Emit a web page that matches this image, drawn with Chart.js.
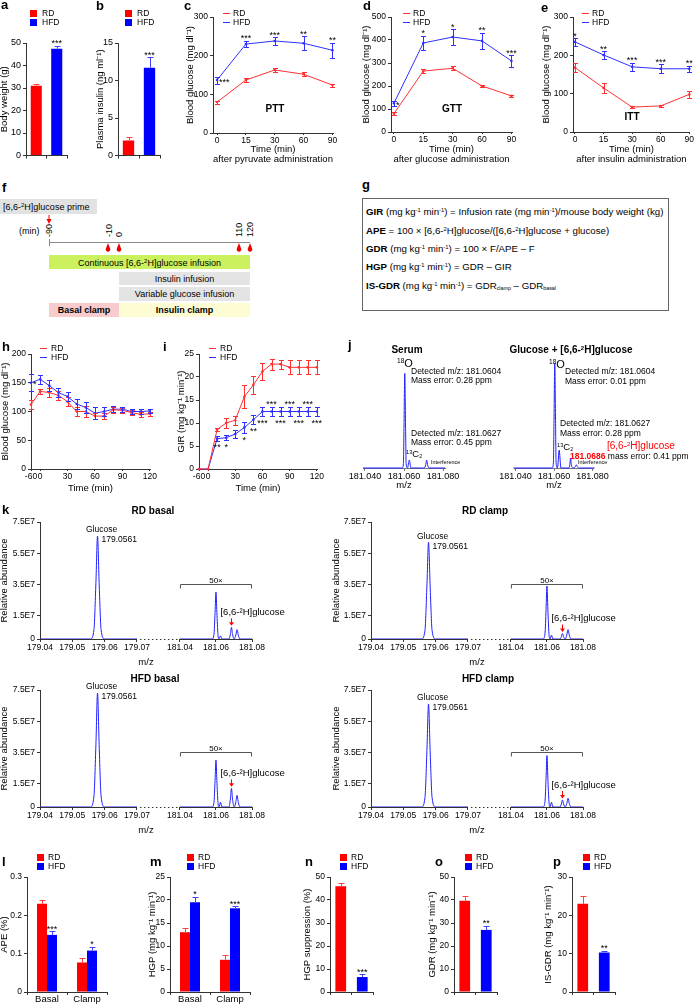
<!DOCTYPE html>
<html>
<head>
<meta charset="utf-8">
<title>Glucose clamp figure</title>
<script src="https://cdn.jsdelivr.net/npm/chart.js@4.4.1/dist/chart.umd.min.js"></script>
<style>
html,body{margin:0;padding:0;background:#fff}
body{position:relative;width:694px;height:1004px;overflow:hidden;font-family:"Liberation Sans",Arial,Helvetica,sans-serif;color:#000}
canvas{position:absolute}
.t{position:absolute;white-space:nowrap;line-height:1}
.lt{position:absolute;font-weight:bold;font-size:13px;line-height:1}
sup{font-size:60%;vertical-align:0.55em;line-height:0}
sub{font-size:55%;vertical-align:-0.25em;line-height:0}
#g{position:absolute;left:362px;top:198px;width:305px;height:111px;border:1px solid #666;font-size:9.7px}
#g div{position:absolute;left:3px;white-space:nowrap;line-height:1}
</style>
</head>
<body>

<svg width="300" height="330" style="position:absolute;left:0;top:0" xmlns="http://www.w3.org/2000/svg" font-family="Liberation Sans, Arial, sans-serif" font-size="9">
  <rect x="0" y="199" width="97" height="15" fill="#e2e2e2"/>
  <text x="3" y="210">[6,6-<tspan font-size="6" dy="-3">2</tspan><tspan dy="3">H]glucose prime</tspan></text>
  <line x1="49" y1="215" x2="49" y2="220" stroke="#f00"/>
  <path d="M46.5 219 L51.5 219 L49 224 Z" fill="#f00"/>
  <text x="19" y="234">(min)</text>
  <line x1="49" y1="242.5" x2="250" y2="242.5" stroke="#888"/>
  <line x1="49.5" y1="239" x2="49.5" y2="246" stroke="#888"/>
  <text transform="translate(52,237) rotate(-90)">-90</text>
  <text transform="translate(112,237) rotate(-90)">-10</text>
  <text transform="translate(122,237) rotate(-90)">0</text>
  <text transform="translate(242,237) rotate(-90)">110</text>
  <text transform="translate(253,237) rotate(-90)">120</text>
  <path d="M108 243 L105.8 248.8 A2.3 2.3 0 1 0 110.2 248.8 Z" fill="#e00"/>
  <path d="M119 243 L116.8 248.8 A2.3 2.3 0 1 0 121.2 248.8 Z" fill="#e00"/>
  <path d="M239 243 L236.8 248.8 A2.3 2.3 0 1 0 241.2 248.8 Z" fill="#e00"/>
  <path d="M250 243 L247.8 248.8 A2.3 2.3 0 1 0 252.2 248.8 Z" fill="#e00"/>
  <rect x="49" y="255" width="201" height="14" fill="#ccf15e"/>
  <text x="149.5" y="265.5" text-anchor="middle">Continuous [6,6-<tspan font-size="6" dy="-3">2</tspan><tspan dy="3">H]glucose infusion</tspan></text>
  <rect x="119" y="272" width="131" height="13" fill="#e4e4e4"/>
  <text x="184.5" y="281.8" text-anchor="middle">Insulin infusion</text>
  <rect x="119" y="287" width="131" height="14" fill="#e4e4e4"/>
  <text x="184.5" y="297.3" text-anchor="middle">Variable glucose infusion</text>
  <rect x="49" y="303" width="70" height="14" fill="#f8cccc"/>
  <text x="84" y="313.3" text-anchor="middle" font-weight="bold">Basal clamp</text>
  <rect x="119" y="303" width="131" height="14" fill="#fdfcd3"/>
  <text x="184.5" y="313.3" text-anchor="middle" font-weight="bold">Insulin clamp</text>
</svg>

<div id="g">
  <div style="top:8px"><b>GIR</b> (mg kg<sup>-1</sup> min<sup>-1</sup>) = Infusion rate (mg min<sup>-1</sup>)/mouse body weight (kg)</div>
  <div style="top:26.5px"><b>APE</b> = 100 × [6,6-<sup>2</sup>H]glucose/([6,6-<sup>2</sup>H]glucose + glucose)</div>
  <div style="top:45px"><b>GDR</b> (mg kg<sup>-1</sup> min<sup>-1</sup>) = 100 × F/APE – F</div>
  <div style="top:63px"><b>HGP</b> (mg kg<sup>-1</sup> min<sup>-1</sup>) = GDR – GIR</div>
  <div style="top:81.5px"><b>IS-GDR</b> (mg kg<sup>-1</sup> min<sup>-1</sup>) = GDR<sub>clamp</sub> – GDR<sub>basal</sub></div>
</div>

<script>
// ---------- data ----------
var groups = ['RD', 'HFD'];

// a, b
var bodyWeight = [31.0, 47.5];
var bodyWeightErr = [0.6, 1.2];
var bodyWeightSig = ['', '***'];
var plasmaInsulin = [2.0, 11.7];
var plasmaInsulinErr = [0.5, 1.4];
var plasmaInsulinSig = ['', '***'];

// c, d, e
var tolTimes = ['0', '15', '30', '60', '90'];
var pttRD = [80, 137, 163, 152, 124];
var pttRDErr = [4, 6, 5, 5, 4];
var pttHFD = [137, 230, 238, 232, 214];
var pttHFDErr = [9, 8, 10, 18, 20];
var pttSig = ['***', '***', '***', '**', '**'];
var pttSigPos = ['right', 'above', 'above', 'above', 'above'];
var gttRD = [80, 265, 277, 200, 157];
var gttRDErr = [8, 10, 8, 6, 5];
var gttHFD = [125, 387, 413, 396, 309];
var gttHFDErr = [10, 32, 33, 35, 25];
var gttSig = ['*', '*', '*', '**', '***'];
var gttSigPos = ['right', 'above', 'above', 'above', 'above'];
var ittRD = [168, 115, 65, 68, 98];
var ittRDErr = [12, 12, 3, 3, 10];
var ittHFD = [235, 201, 170, 165, 165];
var ittHFDErr = [10, 10, 10, 12, 8];
var ittSig = ['*', '**', '***', '***', '**'];
var ittSigPos = ['above', 'above', 'above', 'above', 'above'];

// h, i
var clampTimes = ['-60', '0', '10', '20', '30', '40', '50', '60', '70', '80', '90', '100', '110', '120'];
var clampTickLabels = ['-60', '0', '30', '60', '90', '120'];
var glcRD = [112, 135, 133, 128, 117, 100, 100, 92, 92, 103, 102, 98, 95, 96];
var glcRDErr = [8, 5, 8, 8, 8, 8, 10, 5, 5, 5, 4, 4, 4, 4];
var glcHFD = [150, 156, 145, 133, 126, 113, 107, 97, 100, 104, 104, 100, 100, 101];
var glcHFDErr = [15, 8, 9, 8, 8, 9, 9, 10, 7, 5, 4, 5, 4, 4];
var glcSig = ['*', '', '', '', '', '', '', '', '', '', '', '', '', ''];
var glcSigPos = ['right'];
var girRD = [0, 0, 8.6, 10, 10.6, 15.7, 18.3, 21.2, 22.8, 22.8, 22.1, 22.1, 22.1, 22.1];
var girRDErr = [0, 0, 0.4, 1, 1, 2.5, 2, 1.8, 1.2, 1, 1.5, 1.5, 1.5, 1.5];
var girHFD = [0, 0, 6.6, 6.8, 7.6, 9, 10.7, 12.5, 12.5, 12.5, 12.5, 12.5, 12.5, 12.5];
var girHFDErr = [0, 0, 0.5, 0.6, 0.8, 1.2, 1, 1, 1, 1, 1, 1, 1, 1];
var girSig = ['', '', '**', '*', '', '*', '**', '***', '***', '***', '***', '***', '***', '***'];
var girSigPos = ['', '', 'below', 'below', '', 'below', 'below', 'below', 'above', 'below', 'above', 'below', 'above', 'below'];

// j (arbitrary intensity)
var msMz = [181.0390, 181.0590, 181.0597, 181.0600, 181.0604, 181.0608, 181.0611, 181.0618, 181.0627, 181.0636,
            181.0677, 181.0682, 181.0686, 181.0690, 181.0700, 181.0710, 181.0716, 181.0722, 181.0732, 181.0810];
var serumAb = [0, 0, 4, 40, 90, 40, 4, 0, 7.5, 0, 0, 0, 0, 0, 0, 2, 7.5, 2, 0, 0];
var mixAb = [0, 0, 5, 45, 100, 45, 5, 0, 17, 0, 0, 3, 9.5, 3, 0, 1, 3, 1, 0, 0];
var msXTicks = [181.04, 181.06, 181.08];
var msXLabels = ['181.040', '181.060', '181.080'];

// k (abundance in units of 1E7; right part shown 50x)
var kMzLeft = [179.0400, 179.0556, 179.0567, 179.0573, 179.0578, 179.0583, 179.0589, 179.0600, 179.0700];
var kMzRight = [181.0400, 181.0578, 181.0589, 181.0595, 181.0600, 181.0605, 181.0611, 181.0617, 181.0625, 181.0633,
                181.0672, 181.0680, 181.0686, 181.0692, 181.0701, 181.0710, 181.0717, 181.0724, 181.0733, 181.0800];
var rdBasalL = [0, 0, 0.6, 3.6, 6.6, 3.6, 0.6, 0, 0];
var rdBasalR = [0, 0, 0.3, 1.7, 3.0, 1.7, 0.3, 0, 0.2, 0, 0, 0.3, 0.75, 0.3, 0, 0.25, 0.6, 0.25, 0, 0];
var rdClampL = [0, 0, 0.55, 3.4, 6.2, 3.4, 0.55, 0, 0];
var rdClampR = [0, 0, 0.35, 1.9, 3.4, 1.9, 0.35, 0, 0.25, 0, 0, 0.15, 0.35, 0.15, 0, 0.25, 0.6, 0.25, 0, 0];
var hfdBasalL = [0, 0, 0.7, 4.0, 7.3, 4.0, 0.7, 0, 0];
var hfdBasalR = [0, 0, 0.3, 1.7, 3.0, 1.7, 0.3, 0, 0.3, 0, 0, 0.5, 1.2, 0.5, 0, 0.3, 0.75, 0.3, 0, 0];
var hfdClampL = [0, 0, 0.6, 3.6, 6.6, 3.6, 0.6, 0, 0];
var hfdClampR = [0, 0, 0.35, 1.85, 3.3, 1.85, 0.35, 0, 0.3, 0, 0, 0.2, 0.45, 0.2, 0, 0.22, 0.55, 0.22, 0, 0];
var kXTicks = [179.04, 179.05, 179.06, 179.07, 181.04, 181.06, 181.08];
var kYTicks = [0, 1.5, 3.5, 5.5, 7.5];
var kYLabels = ['0', '1.5E7', '3.5E7', '5.5E7', '7.5E7'];

// l - p
var phases = ['Basal', 'Clamp'];
var apeRD = [0.23, 0.077], apeRDErr = [0.01, 0.012];
var apeHFD = [0.149, 0.108], apeHFDErr = [0.01, 0.01];
var apeSig = ['***', '*'];
var hgpRD = [13.0, 7.0], hgpRDErr = [0.9, 1.0];
var hgpHFD = [19.5, 18.2], hgpHFDErr = [1.2, 0.4];
var hgpSig = ['*', '***'];
var hgpSupp = [46, 6.5], hgpSuppErr = [1.5, 1.2];
var hgpSuppSig = ['', '***'];
var gdr = [39.7, 27], gdrErr = [2, 1.8];
var gdrSig = ['', '**'];
var isGdr = [23, 10.3], isGdrErr = [2, 0.5];
var isGdrSig = ['', '**'];

// ---------- helpers ----------
var FONT = '"Liberation Sans", Arial, Helvetica, sans-serif';
var AX = '#333';
var RED = '#ff0000', BLUE = '#0000ff';
var RLINE = '#ff3030', BLINE = '#3030ff', SPEC = '#2020ff';
var TF = {size: 9.5, lineHeight: 1};

Chart.defaults.font.family = FONT;
Chart.defaults.color = '#000';
Chart.defaults.plugins.legend.display = false;
Chart.defaults.plugins.tooltip.enabled = false;

function val(d) { return (d !== null && typeof d === 'object') ? d.y : d; }

var errorBars = {
  id: 'errorBars',
  afterDatasetsDraw: function (chart) {
    var ctx = chart.ctx, ys = chart.scales.y;
    chart.data.datasets.forEach(function (ds, di) {
      if (!ds.errors) return;
      var meta = chart.getDatasetMeta(di);
      ctx.save();
      ctx.lineWidth = 1;
      meta.data.forEach(function (el, i) {
        var v = val(ds.data[i]), e = ds.errors[i];
        if (v == null || !e) return;
        var x = Math.round(el.x) + 0.5, cap = ds.cap || 2.5;
        var top = Math.round(ys.getPixelForValue(v + e)) + 0.5;
        var bot = ds.upOnly ? el.y : Math.round(ys.getPixelForValue(v - e)) + 0.5;
        ctx.strokeStyle = Array.isArray(ds.errorColor) ? ds.errorColor[i] : (ds.errorColor || ds.borderColor);
        ctx.beginPath();
        ctx.moveTo(x, top); ctx.lineTo(x, bot);
        ctx.moveTo(x - cap, top); ctx.lineTo(x + cap, top);
        if (!ds.upOnly) { ctx.moveTo(x - cap, bot); ctx.lineTo(x + cap, bot); }
        ctx.stroke();
      });
      ctx.restore();
    });
  }
};

var stars = {
  id: 'stars',
  afterDatasetsDraw: function (chart, args, o) {
    if (!o || !o.marks) return;
    var ctx = chart.ctx, ys = chart.scales.y;
    var ds = chart.data.datasets[o.ds || 0], meta = chart.getDatasetMeta(o.ds || 0);
    ctx.save();
    ctx.font = '9px ' + FONT;
    ctx.fillStyle = '#000';
    ctx.textBaseline = 'middle';
    o.marks.forEach(function (m, i) {
      if (!m) return;
      var el = meta.data[i], v = val(ds.data[i]), e = ds.errors ? ds.errors[i] : 0;
      var p = (o.pos && o.pos[i]) || 'above';
      if (p === 'right') {
        ctx.textAlign = 'left';
        ctx.fillText(m, el.x + 2, el.y + 2);
      } else if (p === 'below') {
        ctx.textAlign = 'center';
        ctx.fillText(m, el.x, ys.getPixelForValue(v - e) + 7);
      } else {
        ctx.textAlign = 'center';
        ctx.fillText(m, el.x, ys.getPixelForValue(v + e) - 2);
      }
    });
    ctx.restore();
  }
};

Chart.register(errorBars, stars);

function panel(area, m, cfg) {
  var cv = document.createElement('canvas');
  var w = area[2] - area[0] + m[0] + m[2];
  var h = area[3] - area[1] + m[1] + m[3];
  cv.width = w; cv.height = h;
  cv.style.left = (area[0] - m[0]) + 'px';
  cv.style.top = (area[1] - m[1]) + 'px';
  cv.style.width = w + 'px'; cv.style.height = h + 'px';
  document.body.appendChild(cv);
  var o = cfg.options;
  o.responsive = false; o.animation = false; o.devicePixelRatio = 1; o.events = [];
  o.layout = {padding: {left: 0, top: m[1], right: m[2], bottom: 0}};
  o.scales.x.afterFit = function (s) { s.height = m[3]; };
  o.scales.y.afterFit = function (s) { s.width = m[0]; };
  return new Chart(cv, cfg);
}

function yAxis(min, max, step, title, fs) {
  return {
    min: min, max: max,
    border: {color: AX},
    grid: {drawOnChartArea: false, tickLength: 3, color: AX},
    ticks: {stepSize: step, font: {size: fs || 9, lineHeight: 1}, padding: 2, color: '#000'},
    title: {display: !!title, text: title, font: TF, padding: 0, color: '#000'}
  };
}

function catAxis(show, fs) {
  return {
    type: 'category',
    border: {color: AX},
    grid: {drawOnChartArea: false, tickLength: 3, color: AX, offset: true},
    ticks: {display: show, font: {size: fs || 9.5, lineHeight: 1}, padding: 0, color: '#000'}
  };
}

function txt(s, x, y, o) {
  o = o || {};
  var d = document.createElement('div');
  var fs = o.size || 9;
  d.className = 't';
  d.innerHTML = s;
  d.style.fontSize = fs + 'px';
  d.style.top = (y - fs / 2) + 'px';
  d.style.left = x + 'px';
  if (o.align === 'center') d.style.transform = 'translateX(-50%)';
  if (o.align === 'right') d.style.transform = 'translateX(-100%)';
  if (o.bold) d.style.fontWeight = 'bold';
  if (o.color) d.style.color = o.color;
  document.body.appendChild(d);
  return d;
}

function letter(s, x, y) {
  var d = document.createElement('div');
  d.className = 'lt'; d.textContent = s;
  d.style.left = x + 'px'; d.style.top = y + 'px';
  document.body.appendChild(d);
}

function legend(x, y, kind, gap) {
  groups.forEach(function (g, i) {
    var yy = y + i * 9.5;
    var s = document.createElement('div');
    s.style.position = 'absolute';
    s.style.left = x + 'px';
    if (kind === 'box') {
      s.style.top = (yy - 3.5) + 'px'; s.style.width = '7px'; s.style.height = '7px';
      s.style.background = i ? BLUE : RED;
    } else {
      s.style.top = (yy - 0.5) + 'px'; s.style.width = '7px'; s.style.height = '1px';
      s.style.background = i ? BLINE : RLINE;
    }
    document.body.appendChild(s);
    txt(g, x + gap, yy, {size: 8.5});
  });
}

// ---------- bar panels ----------
function singleBar(area, m, vals, errs, sig, ymax, step, title, fs, bp) {
  return panel(area, m, {
    type: 'bar',
    data: {labels: groups, datasets: [{
      data: vals, errors: errs, upOnly: true, cap: 3,
      backgroundColor: [RED, BLUE], errorColor: ['#ff4040', '#4040ff'],
      barPercentage: bp || 0.54, categoryPercentage: 1
    }]},
    options: {
      plugins: {stars: {ds: 0, marks: sig}},
      scales: {x: catAxis(false), y: yAxis(0, ymax, step, title, fs)}
    }
  });
}

function groupedBar(area, m, rd, rdE, hfd, hfdE, sig, ymax, step, title) {
  return panel(area, m, {
    type: 'bar',
    data: {labels: phases, datasets: [
      {data: rd, errors: rdE, upOnly: true, cap: 3, backgroundColor: RED, errorColor: '#ff4040', barPercentage: 1, categoryPercentage: 0.5},
      {data: hfd, errors: hfdE, upOnly: true, cap: 3, backgroundColor: BLUE, errorColor: '#4040ff', barPercentage: 1, categoryPercentage: 0.5}
    ]},
    options: {
      plugins: {stars: {ds: 1, marks: sig}},
      scales: {x: catAxis(true, 9.5), y: yAxis(0, ymax, step, title, 8.5)}
    }
  });
}

// ---------- line panels ----------
function lineSet(vals, errs, color) {
  return {
    data: vals.map(function (v, i) { return {x: i, y: v}; }),
    errors: errs, borderColor: color, backgroundColor: color, borderWidth: 1,
    pointRadius: 1.3, pointBorderWidth: 0, clip: false, tension: 0
  };
}

function indexAxis(labels, shown, min, max, title, fs) {
  return {
    type: 'linear', min: min, max: max,
    afterBuildTicks: function (s) {
      var t = [];
      labels.forEach(function (l, i) { if (shown.indexOf(l) >= 0) t.push({value: i}); });
      s.ticks = t;
    },
    border: {color: AX},
    grid: {drawOnChartArea: false, tickLength: 2, color: AX},
    ticks: {callback: function (v) { return labels[v]; }, font: {size: fs || 9, lineHeight: 1}, padding: 1, color: '#000', maxRotation: 0, autoSkip: false},
    title: {display: true, text: title, font: TF, padding: 0, color: '#000'}
  };
}

function linePanel(area, m, rd, rdE, hfd, hfdE, labels, shown, xmin, xTitle, ymax, step, yTitle, sig, sigPos, fs) {
  return panel(area, m, {
    type: 'line',
    data: {datasets: [lineSet(rd, rdE, RLINE), lineSet(hfd, hfdE, BLINE)]},
    options: {
      plugins: {stars: {ds: 1, marks: sig, pos: sigPos}},
      scales: {
        x: indexAxis(labels, shown, xmin, labels.length - 1 + 0.02, xTitle, fs),
        y: yAxis(0, ymax, step, yTitle, fs)
      }
    }
  });
}

// ---------- spectra ----------
function mzToU(mz) { return mz < 180 ? (mz - 179.04) * 100 : 4.33 + (mz - 181.04) * 55.75; }

var specPlugin = {
  id: 'spec',
  afterDatasetsDraw: function (chart, args, o) {
    if (!o || !o.on) return;
    var ctx = chart.ctx, xs = chart.scales.x, ys = chart.scales.y;
    var meta = chart.getDatasetMeta(0);
    var y0 = Math.round(ys.getPixelForValue(0)) + 0.5;
    var xl0 = xs.getPixelForValue(mzToU(179.04)), xl1 = xs.getPixelForValue(mzToU(179.07));
    var xr0 = xs.getPixelForValue(mzToU(181.04)), xr1 = xs.getPixelForValue(mzToU(181.08));
    ctx.save();
    ctx.strokeStyle = AX; ctx.lineWidth = 1;
    ctx.beginPath();
    ctx.moveTo(xl0, y0); ctx.lineTo(xl1, y0);
    ctx.moveTo(xr0, y0); ctx.lineTo(xr1, y0);
    ctx.stroke();
    ctx.setLineDash([1.5, 2.5]);
    ctx.beginPath(); ctx.moveTo(xl1 + 3, y0); ctx.lineTo(xr0 - 2, y0); ctx.stroke();
    ctx.setLineDash([]);
    var yb = Math.round(ys.getPixelForValue(3.5)) + 0.5;
    ctx.strokeStyle = '#555';
    ctx.beginPath(); ctx.moveTo(xr0 + 0.5, yb + 4); ctx.lineTo(xr0 + 0.5, yb); ctx.lineTo(xr1 - 0.5, yb); ctx.lineTo(xr1 - 0.5, yb + 4); ctx.stroke();
    ctx.fillStyle = '#000';
    ctx.textBaseline = 'alphabetic'; ctx.textAlign = 'center';
    ctx.font = '8px ' + FONT;
    ctx.fillText('50×', (xr0 + xr1) / 2, yb - 2);
    var g = meta.data[o.glcIdx];
    ctx.textBaseline = 'middle';
    ctx.font = '8.5px ' + FONT;
    ctx.fillText('Glucose', g.x + 4, g.y - 6);
    ctx.textAlign = 'left';
    ctx.fillText('179.0561', g.x + 4, g.y + 4);
    var d = meta.data[o.dIdx];
    ctx.font = '9.5px ' + FONT;
    ctx.fillText('[6,6-²H]glucose', d.x - 11, d.y - 15);
    ctx.strokeStyle = '#f00'; ctx.fillStyle = '#f00';
    var ax = Math.round(d.x) + 0.5;
    ctx.beginPath(); ctx.moveTo(ax, d.y - 9); ctx.lineTo(ax, d.y - 4); ctx.stroke();
    ctx.beginPath(); ctx.moveTo(ax - 2.5, d.y - 5); ctx.lineTo(ax + 2.5, d.y - 5); ctx.lineTo(ax, d.y - 1.5); ctx.closePath(); ctx.fill();
    ctx.restore();
  }
};
Chart.register(specPlugin);

function specPanel(area, m, leftAb, rightAb) {
  var pts = kMzLeft.map(function (mz, i) { return {x: mzToU(mz), y: leftAb[i]}; });
  pts.push({x: mzToU(179.08), y: null});
  kMzRight.forEach(function (mz, i) { pts.push({x: mzToU(mz), y: rightAb[i]}); });
  return panel(area, m, {
    type: 'line',
    data: {datasets: [{data: pts, borderColor: SPEC, borderWidth: 1, pointRadius: 0, cubicInterpolationMode: 'monotone', spanGaps: false, clip: false}]},
    options: {
      plugins: {spec: {on: true, glcIdx: kMzLeft.indexOf(179.0578), dIdx: kMzLeft.length + 1 + kMzRight.indexOf(181.0686)}},
      scales: {
        x: {
          type: 'linear', min: 0, max: mzToU(181.08),
          afterBuildTicks: function (s) { s.ticks = kXTicks.map(function (v) { return {value: mzToU(v)}; }); },
          border: {display: false},
          grid: {drawOnChartArea: false, tickLength: 3, color: AX},
          ticks: {callback: function (v, i) { return kXTicks[i].toFixed(2); }, font: {size: 8.5, lineHeight: 1}, padding: 1, color: '#000', maxRotation: 0, autoSkip: false},
          title: {display: true, text: 'm/z', font: TF, padding: 0, color: '#000'}
        },
        y: {
          min: 0, max: 7.5,
          afterBuildTicks: function (s) { s.ticks = kYTicks.map(function (v) { return {value: v}; }); },
          border: {color: AX},
          grid: {drawOnChartArea: false, tickLength: 3, color: AX},
          ticks: {callback: function (v, i) { return kYLabels[i]; }, font: {size: 8.5, lineHeight: 1}, padding: 2, color: '#000'},
          title: {display: true, text: 'Relative abundance', font: TF, padding: 0, color: '#000'}
        }
      }
    }
  });
}

function msPanel(area, m, ab, xmin, xmax) {
  return panel(area, m, {
    type: 'line',
    data: {datasets: [{data: msMz.map(function (mz, i) { return {x: mz, y: ab[i]}; }), borderColor: SPEC, borderWidth: 1, pointRadius: 0, cubicInterpolationMode: 'monotone', clip: false}]},
    options: {
      scales: {
        x: {
          type: 'linear', min: xmin, max: xmax,
          afterBuildTicks: function (s) { s.ticks = msXTicks.map(function (v) { return {value: v}; }); },
          border: {color: '#777'},
          grid: {drawOnChartArea: false, tickLength: 3, color: '#777'},
          ticks: {callback: function (v, i) { return msXLabels[i]; }, font: {size: 9, lineHeight: 1}, padding: 1, color: '#000', maxRotation: 0, autoSkip: false},
          title: {display: true, text: 'm/z', font: TF, padding: 0, color: '#000'}
        },
        y: {min: 0, max: 100, border: {display: false}, grid: {display: false}, ticks: {display: false}}
      }
    }
  });
}

// ---------- build ----------
// row 1
singleBar([26, 43, 67, 158], [26, 8, 4, 4], bodyWeight, bodyWeightErr, bodyWeightSig, 50, 10, 'Body weight (g)', 9);
singleBar([118, 43, 160, 158], [22, 8, 4, 4], plasmaInsulin, plasmaInsulinErr, plasmaInsulinSig, 15, 5, 'Plasma insulin (ng ml⁻¹)', 9);
linePanel([213, 17, 333, 133], [27, 8, 10, 31], pttRD, pttRDErr, pttHFD, pttHFDErr, tolTimes, tolTimes, -0.14,
  ['Time (min)', 'after pyruvate administration'], 300, 100, 'Blood glucose (mg dl⁻¹)', pttSig, pttSigPos, 8.5);
linePanel([391, 17, 512, 132], [29, 8, 10, 32], gttRD, gttRDErr, gttHFD, gttHFDErr, tolTimes, tolTimes, -0.1,
  ['Time (min)', 'after glucose administration'], 500, 100, 'Blood glucose (mg dl⁻¹)', gttSig, gttSigPos, 8.5);
linePanel([573, 17, 690, 132], [31, 8, 5, 32], ittRD, ittRDErr, ittHFD, ittHFDErr, tolTimes, tolTimes, -0.07,
  ['Time (min)', 'after insulin administration'], 300, 100, 'Blood glucose (mg dl⁻¹)', ittSig, ittSigPos, 8.5);

// row 3
linePanel([31, 354, 150, 469], [30, 8, 8, 24], glcRD, glcRDErr, glcHFD, glcHFDErr, clampTimes, clampTickLabels, 0,
  'Time (min)', 200, 50, 'Blood glucose (mg dl⁻¹)', glcSig, glcSigPos, 8.5);
linePanel([199, 354, 317, 469], [22, 8, 10, 24], girRD, girRDErr, girHFD, girHFDErr, clampTimes, clampTickLabels, 0,
  'Time (min)', 25, 5, 'GIR (mg kg⁻¹ min⁻¹)', girSig, girSigPos, 8.5);
msPanel([363, 363, 445, 468], [16, 5, 16, 22], serumAb, 181.039, 181.081);
msPanel([514, 363, 594, 468], [16, 5, 16, 22], mixAb, 181.0395, 181.0805);

// k
specPanel([40, 522, 252, 639], [40, 26, 50, 28], rdBasalL, rdBasalR);
specPanel([371, 522, 583, 639], [39, 26, 50, 28], rdClampL, rdClampR);
specPanel([40, 690, 252, 807], [40, 26, 50, 28], hfdBasalL, hfdBasalR);
specPanel([371, 690, 583, 807], [39, 26, 50, 28], hfdClampL, hfdClampR);

// bottom row
groupedBar([27, 877, 107, 992], [27, 8, 6, 12], apeRD, apeRDErr, apeHFD, apeHFDErr, apeSig, 0.3, 0.1, 'APE (%)');
groupedBar([170, 877, 250, 992], [22, 8, 6, 12], hgpRD, hgpRDErr, hgpHFD, hgpHFDErr, hgpSig, 25, 5, 'HGP (mg kg⁻¹ min⁻¹)');
singleBar([330, 877, 373, 992], [27, 8, 4, 12], hgpSupp, hgpSuppErr, hgpSuppSig, 50, 10, 'HGP suppression (%)', 8.5, 0.5);
singleBar([454, 877, 497, 992], [26, 8, 4, 12], gdr, gdrErr, gdrSig, 50, 10, 'GDR (mg kg⁻¹ min⁻¹)', 8.5, 0.5);
singleBar([572, 877, 615, 992], [28, 8, 4, 12], isGdr, isGdrErr, isGdrSig, 30, 10, 'IS-GDR (mg kg⁻¹ min⁻¹)', 8.5, 0.5);

// ---------- legends, letters, annotations ----------
legend(30, 13, 'box', 12);
legend(125, 13, 'box', 12);
legend(223, 13, 'line', 10);
legend(403, 13, 'line', 10);
legend(582, 13, 'line', 10);
legend(40, 348, 'line', 11);
legend(209, 348, 'line', 11);
legend(37, 857, 'box', 11);
legend(187, 857, 'box', 11);
legend(340, 857, 'box', 11);
legend(465, 857, 'box', 11);
legend(583, 857, 'box', 11);

letter('a', 1, -2); letter('b', 96, -1); letter('c', 184, -1); letter('d', 363, -1); letter('e', 541, 1);
letter('f', 2, 181); letter('g', 362, 178); letter('h', 2, 340); letter('i', 163, 340); letter('j', 348, 338);
letter('k', 2, 503); letter('l', 2, 855); letter('m', 150, 855); letter('n', 305, 855); letter('o', 435, 855); letter('p', 553, 855);

txt('PTT', 275, 109, {size: 10, bold: true, align: 'center'});
txt('GTT', 452, 109, {size: 10, bold: true, align: 'center'});
txt('ITT', 632, 117, {size: 10, bold: true, align: 'center'});

txt('RD basal', 153, 511, {size: 10, bold: true, align: 'center'});
txt('RD clamp', 485, 511, {size: 10, bold: true, align: 'center'});
txt('HFD basal', 155, 679, {size: 10, bold: true, align: 'center'});
txt('HFD clamp', 488, 679, {size: 10, bold: true, align: 'center'});

// j annotations
txt('Serum', 407, 350, {size: 10, bold: true, align: 'center'});
txt('<sup>18</sup>O', 397, 363, {size: 11});
txt('Detected m/z: 181.0604', 411, 371, {size: 8.5});
txt('Mass error: 0.28 ppm', 411, 380, {size: 8.5});
txt('Detected m/z: 181.0627', 411, 433, {size: 8.5});
txt('Mass error: 0.45 ppm', 411, 442, {size: 8.5});
txt('<sup>13</sup>C<sub>2</sub>', 406, 454, {size: 9.5});
txt('Interference', 431, 463, {size: 5.5});

txt('Glucose + [6,6-<sup>2</sup>H]glucose', 571, 350, {size: 10, bold: true, align: 'center'});
txt('<sup>18</sup>O', 549, 364, {size: 11});
txt('Detected m/z: 181.0604', 565, 371, {size: 8.5});
txt('Mass error: 0.01 ppm', 565, 381, {size: 8.5});
txt('Detected m/z: 181.0627', 560, 423, {size: 8.5});
txt('Mass error: 0.28 ppm', 560, 433, {size: 8.5});
txt('<sup>13</sup>C<sub>2</sub>', 557, 447, {size: 9.5});
txt('[6,6-<sup>2</sup>H]glucose', 607, 446, {size: 10, color: '#f00'});
txt('<b style="color:#f00">181.0686</b> mass error: 0.41 ppm', 570, 456, {size: 8.5});
txt('Interference', 578, 463, {size: 5.5});
</script>
</body>
</html>
